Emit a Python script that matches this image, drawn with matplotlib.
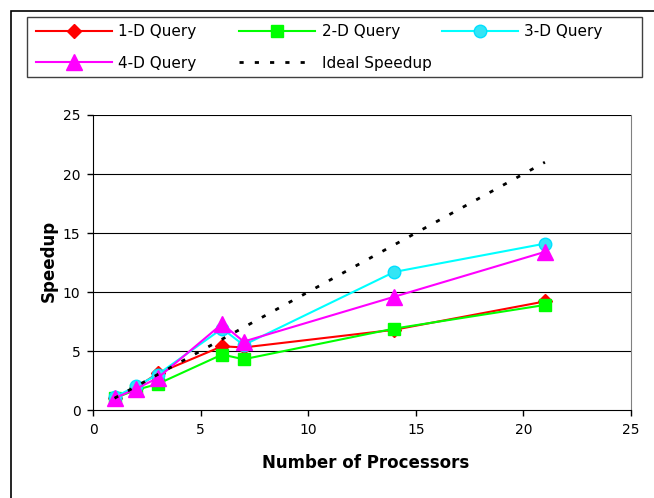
import matplotlib
matplotlib.use("Agg")
import matplotlib.pyplot as plt
from matplotlib.patches import Rectangle

processors = [1, 2, 3, 6, 7, 14, 21]
q1d = [1.0, 1.9, 3.1, 5.4, 5.3, 6.8, 9.2]
q2d = [1.0, 1.7, 2.2, 4.7, 4.3, 6.9, 8.9]
q3d = [1.1, 2.0, 3.0, 6.9, 5.5, 11.7, 14.1]
q4d = [1.0, 1.8, 2.7, 7.3, 5.8, 9.6, 13.4]
ideal_x = [1, 21]
ideal_y = [1, 21]

plt.rcParams['font.family'] = ['DejaVu Sans']

W, H = 654, 498
fig = plt.figure(figsize=(W / 100, H / 100), dpi=100)

# outer frame
fig.patches.append(Rectangle((11 / W, -0.1), 1.2, 1 - 11 / H + 0.1, transform=fig.transFigure,
                             fill=False, edgecolor='black', linewidth=1.2))
# legend frame
fig.patches.append(Rectangle((27 / W, 1 - 77 / H), (642 - 27) / W, (77 - 17) / H,
                             transform=fig.transFigure, fill=False, edgecolor='#404040', linewidth=1.0))

ax = fig.add_axes([93 / W, 1 - 410 / H, (631 - 93) / W, (410 - 115) / H])

l1, = ax.plot(processors, q1d, color='#ff0000', marker='D', markersize=7, linewidth=1.5, label='1-D Query')
l2, = ax.plot(processors, q2d, color='#00ff00', marker='s', markersize=9, linewidth=1.5, label='2-D Query')
l3, = ax.plot(processors, q3d, color='#00ffff', marker='o', markersize=9, linewidth=1.5,
              markerfacecolor='#33e5f5', markeredgecolor='#00e0ff', label='3-D Query')
l4, = ax.plot(processors, q4d, color='#ff00ff', marker='^', markersize=11, linewidth=1.5, label='4-D Query')
l5, = ax.plot(ideal_x, ideal_y, color='black', linestyle=(0, (1.5, 4)), linewidth=2, label='Ideal Speedup')
ax.set_zorder(1)

ax.set_xlim(0, 25)
ax.set_ylim(0, 25)
ax.set_xticks([0, 5, 10, 15, 20, 25])
ax.set_yticks([0, 5, 10, 15, 20, 25])
ax.tick_params(direction='out', length=4, width=1, labelsize=10, colors='black', pad=5)
for y in [5, 10, 15, 20, 25]:
    ax.axhline(y, color='black', linewidth=0.8, zorder=0)
ax.spines['top'].set_visible(False)
ax.spines['right'].set_color('#808080')
ax.spines['left'].set_color('black')
ax.spines['bottom'].set_color('black')

fig.text(49 / W, 1 - 261 / H, 'Speedup', fontsize=12, fontweight='bold', rotation=90,
         ha='center', va='center')
fig.text(366 / W, 1 - 463 / H, 'Number of Processors', fontsize=12, fontweight='bold',
         ha='center', va='center')

# legend: three columns, filled row by row
columns = [([l1, l4], 36), ([l2, l5], 239), ([l3], 442)]
for handles, x0 in columns:
    leg = fig.legend(handles=handles, loc='upper left',
                     bbox_to_anchor=(x0 / W, 1 - 24 / H),
                     fontsize=11, handlelength=5.0, handletextpad=0.4,
                     frameon=False, borderaxespad=0, borderpad=0,
                     labelspacing=1.1)

fig.savefig('out.png', dpi=100)
